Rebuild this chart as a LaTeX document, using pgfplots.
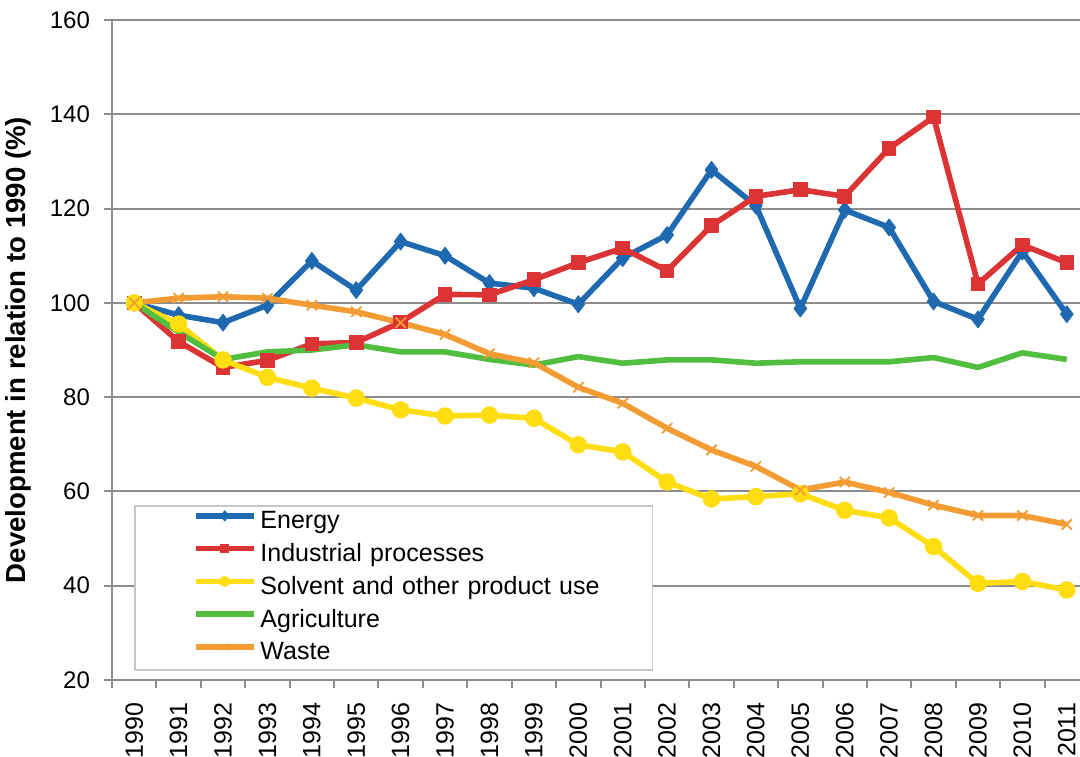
\documentclass[border=0pt]{standalone}
\usepackage{fontspec}
\setmainfont{Liberation Sans}
\usepackage{pgfplots}
\pgfplotsset{compat=1.18}
\definecolor{cEn}{HTML}{1F69B1}
\definecolor{cIn}{HTML}{DC3434}
\definecolor{cSo}{HTML}{FFDD10}
\definecolor{cAg}{HTML}{52BE40}
\definecolor{cWa}{HTML}{F29C33}
\definecolor{cGr}{HTML}{8C8C8C}
\begin{document}
\begin{tikzpicture}
\useasboundingbox (0,0) rectangle (540pt,378pt);
\clip (0,0) rectangle (540pt,378pt);
\begin{axis}[
  at={(56pt,38pt)}, anchor=south west,
  scale only axis, width=488.5pt, height=330pt,
  xmin=1989.5, xmax=2011.5, ymin=20, ymax=160,
  ytick={20,40,...,160},
  xtick={1990,...,2011},
  minor xtick={1989.5,1990.5,...,2011.5},
  /pgf/number format/1000 sep={},
  /pgf/number format/assume math mode=true,
  axis lines*=left,
  axis line style={cGr, line width=1.3pt},
  ymajorgrids, grid style={cGr, line width=1pt},
  tick align=outside,
  major tick length=4pt, minor tick length=4pt,
  major x tick style={draw=none},
  minor x tick style={cGr, line width=1pt},
  major y tick style={cGr, line width=1pt},
  yticklabel style={font=\fontsize{12}{14}\selectfont, xshift=-3.5pt},
  xticklabel style={rotate=90, anchor=east, font=\fontsize{12.5}{14}\selectfont},
  xticklabel shift=4pt,
  ylabel={\bfseries Development in relation to 1990 (\%)},
  ylabel style={at={(axis description cs:-0.0957,0.5)}, anchor=center, font=\fontsize{13.8}{16}\selectfont},
  legend cell align=left,
  legend style={at={(axis description cs:0.0225,0.265)}, anchor=north west,
    draw=gray!45, line width=0.9pt, fill=white,
    inner xsep=2pt, inner ysep=0pt, row sep=0pt,
    font=\fontsize{12.5}{14}\selectfont,
    nodes={text width=192pt, text height=8.7pt, text depth=2.5pt, inner ysep=2.6pt}},
  legend image code/.code={\path (-27pt,0); \draw[mark repeat=2,mark phase=2] plot coordinates {(0pt,0.33em) (14.5pt,0.33em) (29pt,0.33em)};},
  legend image post style={/tikz/every mark/.append style={scale=0.6}},
  line join=round,
]
\addplot[cEn, line width=2.8pt, mark=diamond*, mark size=4.2pt, mark options={fill=cEn, line width=0.5pt}] coordinates {
(1990,100) (1991,97.4) (1992,95.8) (1993,99.5) (1994,108.9) (1995,102.7) (1996,113) (1997,110) (1998,104.2) (1999,103.1) (2000,99.7) (2001,109.5) (2002,114.4) (2003,128.2) (2004,120.6) (2005,98.8) (2006,119.7) (2007,116) (2008,100.3) (2009,96.5) (2010,110.9) (2011,97.6)};
\addlegendentry{Energy}
\addplot[cIn, line width=2.8pt, mark=square*, mark size=3.4pt, mark options={fill=cIn, line width=0.5pt}] coordinates {
(1990,100) (1991,91.8) (1992,86.3) (1993,87.8) (1994,91.3) (1995,91.6) (1996,95.9) (1997,101.8) (1998,101.7) (1999,104.9) (2000,108.5) (2001,111.6) (2002,106.8) (2003,116.4) (2004,122.6) (2005,124) (2006,122.6) (2007,132.8) (2008,139.4) (2009,104) (2010,112.3) (2011,108.5)};
\addlegendentry{Industrial processes}
\addplot[cSo, line width=2.8pt, mark=*, mark size=4.1pt, mark options={fill=cSo, line width=0.5pt}] coordinates {
(1990,100) (1991,95.5) (1992,87.9) (1993,84.2) (1994,81.9) (1995,79.8) (1996,77.3) (1997,76) (1998,76.2) (1999,75.5) (2000,69.9) (2001,68.4) (2002,62) (2003,58.4) (2004,58.9) (2005,59.5) (2006,56) (2007,54.4) (2008,48.3) (2009,40.5) (2010,40.9) (2011,39.1)};
\addlegendentry{Solvent and other product use}
\addplot[cAg, line width=2.8pt] coordinates {
(1990,100) (1991,93.8) (1992,88) (1993,89.6) (1994,90) (1995,91.1) (1996,89.6) (1997,89.6) (1998,88) (1999,86.8) (2000,88.6) (2001,87.2) (2002,87.9) (2003,87.9) (2004,87.2) (2005,87.5) (2006,87.5) (2007,87.5) (2008,88.4) (2009,86.3) (2010,89.4) (2011,88)};
\addlegendentry{Agriculture}
\addplot[cWa, line width=2.8pt, mark=x, mark size=3.6pt, mark options={line width=0.9pt}] coordinates {
(1990,100) (1991,101) (1992,101.3) (1993,101) (1994,99.5) (1995,98.1) (1996,95.8) (1997,93.3) (1998,89.2) (1999,87.3) (2000,82.1) (2001,78.7) (2002,73.4) (2003,68.8) (2004,65.3) (2005,60.3) (2006,62) (2007,59.8) (2008,57.1) (2009,54.9) (2010,54.9) (2011,53)};
\addlegendentry{Waste}
\end{axis}
\end{tikzpicture}
\end{document}
